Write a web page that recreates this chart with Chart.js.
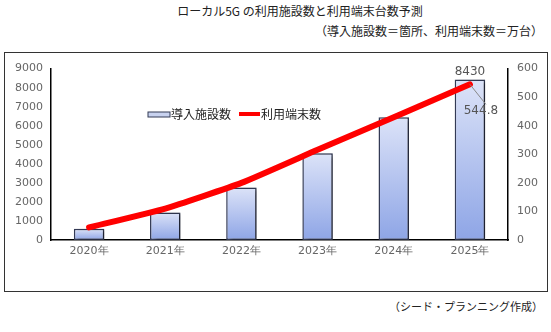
<!DOCTYPE html>
<html>
<head>
<meta charset="utf-8">
<script src="https://cdn.jsdelivr.net/npm/chart.js@4"></script>
<style>
  body { margin: 0; width: 551px; height: 332px; background: #fff; position: relative; overflow: hidden;
         font-family: "Noto Sans CJK JP", sans-serif; color: #222; }
  .title { position: absolute; top: 2px; left: 0; width: 600px; text-align: center; font-size: 12px; }
  .sub { position: absolute; top: 22px; right: 8px; font-size: 12px; }
  .note { position: absolute; top: 298px; right: 8px; font-size: 11px; }
  .box { position: absolute; left: 4px; top: 52px; width: 542px; height: 238px; border: 1px solid #333; }
  .box canvas { position: absolute; left: 0; top: 0; }
</style>
</head>
<body>
<div class="title">ローカル5G の利用施設数と利用端末台数予測</div>
<div class="sub">（導入施設数＝箇所、利用端末数＝万台）</div>
<div class="box"><canvas id="myChart" width="542" height="238"></canvas></div>
<div class="note">（シード・プランニング作成）</div>
<script>
const anos = ['2020年', '2021年', '2022年', '2023年', '2024年', '2025年'];
const facilities = [590, 1440, 2760, 4550, 6440, 8430];
const terminais = [44, 110, 200, 316, 430, 544.8];
const leftTicks = [0, 1000, 2000, 3000, 4000, 5000, 6000, 7000, 8000, 9000];
const rightTicks = [0, 100, 200, 300, 400, 500, 600];

const tickFont = { family: 'DejaVu Sans', size: 11 };

// sombra e rótulos desenhados à mão
const extras = {
  id: 'extras',
  beforeDatasetDraw(chart, args) {
    if (args.index === 1) {
      const ctx = chart.ctx;
      ctx.save();
      ctx.shadowColor = 'rgba(0,0,0,0.45)';
      ctx.shadowBlur = 3;
      ctx.shadowOffsetX = 3;
      ctx.shadowOffsetY = 1;
    }
  },
  afterDatasetDraw(chart, args) {
    if (args.index === 1) chart.ctx.restore();
  },
  afterDatasetsDraw(chart) {
    const ctx = chart.ctx;
    ctx.save();
    // legenda
    ctx.fillStyle = '#c8d2ef';
    ctx.strokeStyle = '#333a55';
    ctx.lineWidth = 1;
    ctx.fillRect(143, 59, 22, 5);
    ctx.strokeRect(143, 59, 22, 5);
    ctx.fillStyle = '#222';
    ctx.font = '12px "Noto Sans CJK JP"';
    ctx.textBaseline = 'middle';
    ctx.fillText('導入施設数', 166, 61);
    ctx.strokeStyle = '#ff0000';
    ctx.lineWidth = 4;
    ctx.beginPath();
    ctx.moveTo(234, 61);
    ctx.lineTo(255, 61);
    ctx.stroke();
    ctx.fillText('利用端末数', 256, 61);

    // rótulos de valor
    const last = anos.length - 1;
    const bar = chart.getDatasetMeta(1).data[last];
    const pt = chart.getDatasetMeta(0).data[last];
    ctx.font = '12px "DejaVu Sans"';
    ctx.fillStyle = '#555';
    ctx.textAlign = 'center';
    ctx.textBaseline = 'bottom';
    ctx.fillText(String(facilities[last]), bar.x, bar.y - 2);
    ctx.strokeStyle = '#888';
    ctx.lineWidth = 1;
    ctx.beginPath();
    ctx.moveTo(pt.x, pt.y);
    ctx.lineTo(pt.x + 16, pt.y + 20);
    ctx.stroke();
    ctx.textBaseline = 'middle';
    ctx.fillText(String(terminais[last]), pt.x + 11, pt.y + 27);
    ctx.restore();
  }
};

const ctx = document.getElementById('myChart').getContext('2d');
new Chart(ctx, {
  data: {
    labels: anos,
    datasets: [
      {
        type: 'line',
        label: '利用端末数',
        data: terminais,
        yAxisID: 'y1',
        borderColor: '#ff0000',
        borderWidth: 6,
        pointRadius: 0,
        tension: 0.15,
        borderCapStyle: 'round',
        order: 0
      },
      {
        type: 'bar',
        label: '導入施設数',
        data: facilities,
        yAxisID: 'y',
        // degradê por barra: claro em cima, azul embaixo
        backgroundColor: (c) => {
          const area = c.chart.chartArea;
          if (!area || c.raw == null) return '#c0ccef';
          const top = c.chart.scales.y.getPixelForValue(c.raw);
          const g = c.chart.ctx.createLinearGradient(0, top, 0, area.bottom);
          g.addColorStop(0, '#dce3f8');
          g.addColorStop(1, '#8ea5e6');
          return g;
        },
        borderColor: '#333a55',
        borderWidth: 1.5,
        borderSkipped: false,
        barPercentage: 0.5,
        categoryPercentage: 0.8,
        order: 1
      }
    ]
  },
  options: {
    responsive: false,
    animation: false,
    layout: { padding: { top: 11, left: 0, right: 0, bottom: 0 } },
    plugins: { legend: { display: false }, tooltip: { enabled: false } },
    scales: {
      x: {
        grid: { display: false, drawTicks: false },
        border: { color: '#000', width: 1.5 },
        ticks: { color: '#666', font: tickFont, padding: 5 },
        afterFit: (s) => { s.height = 51; }
      },
      y: {
        position: 'left',
        min: 0, max: 9000,
        afterBuildTicks: (s) => { s.ticks = leftTicks.map(v => ({ value: v })); },
        grid: { display: false, drawTicks: false },
        border: { color: '#000', width: 1.5 },
        ticks: { color: '#666', font: tickFont, padding: 8, callback: (v) => String(v) },
        afterFit: (s) => { s.width = 46; }
      },
      y1: {
        position: 'right',
        min: 0, max: 600,
        afterBuildTicks: (s) => { s.ticks = rightTicks.map(v => ({ value: v })); },
        grid: { display: false, drawTicks: false },
        border: { color: '#000', width: 1.5 },
        ticks: { color: '#666', font: tickFont, padding: 9, callback: (v) => String(v) },
        afterFit: (s) => { s.width = 39; }
      }
    }
  },
  plugins: [extras]
});
</script>
</body>
</html>
